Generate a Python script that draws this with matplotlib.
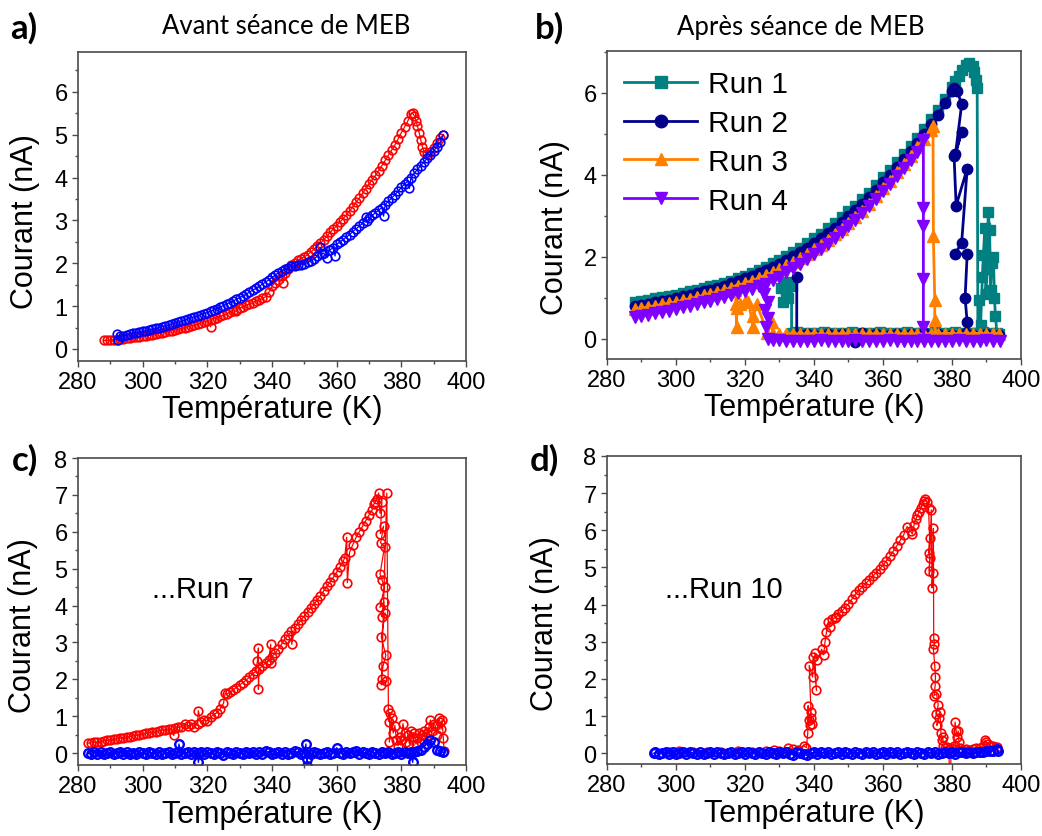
"""
Four-panel current vs temperature figure (before / after SEM session).
"""

import matplotlib
matplotlib.use("Agg")
import matplotlib.pyplot as plt
from matplotlib.ticker import MultipleLocator

plt.rcParams["font.family"] = ["Liberation Sans", "DejaVu Sans"]

W, H = 1042, 837
RED = "#FF0000"
BLUE = "#0000FF"
SPINE = "#4a4a4a"
RUN_COLOURS = ["#008080", "#00008B", "#FF8000", "#8000FF"]
RUN_MARKERS = ["s", "o", "^", "v"]
RUN_LABELS = ["Run 1", "Run 2", "Run 3", "Run 4"]

# ── Panel a : before SEM ───────────────────────────────────────
a_red_T = [288, 289, 290, 291, 292, 293, 294, 295, 296, 297,
           298, 299, 300, 301, 302, 303, 304, 305, 306, 307,
           308, 309, 310, 311, 312, 313, 314, 315, 316, 317,
           318, 319, 320, 321, 321, 322, 323, 324, 325, 326,
           327, 328, 329, 329, 330, 331, 332, 333, 334, 335,
           336, 337, 338, 339, 340, 341, 342, 343, 343.5, 344,
           345, 346, 347, 348, 349, 350, 351, 352, 353, 354,
           355, 356, 357, 358, 359, 360, 361, 362, 363, 364,
           365, 366, 367, 368, 369, 370, 371, 372, 373, 374,
           375, 376, 377, 378, 379, 380, 381, 382, 383, 383.5,
           384, 384.5, 385, 385.5, 386, 386.5, 387, 388, 389, 390,
           391, 392, 393]
a_red_I = [0.2, 0.2, 0.21, 0.21, 0.22, 0.23, 0.24, 0.25, 0.26, 0.27,
           0.28, 0.29, 0.3, 0.31, 0.32, 0.335, 0.35, 0.365, 0.38, 0.395,
           0.41, 0.425, 0.44, 0.46, 0.48, 0.5, 0.52, 0.54, 0.56, 0.585,
           0.61, 0.635, 0.66, 0.52, 0.685, 0.71, 0.735, 0.76, 0.79, 0.82,
           0.855, 0.89, 0.88, 0.92, 0.95, 0.985, 1.02, 1.05, 1.08, 1.115,
           1.15, 1.18, 1.22, 1.32, 1.47, 1.55, 1.62, 1.7, 1.55, 1.78,
           1.87, 1.95, 2.01, 2.07, 2.11, 2.15, 2.2, 2.26, 2.33, 2.4,
           2.47, 2.55, 2.63, 2.72, 2.8, 2.88, 2.96, 3.04, 3.13, 3.22,
           3.32, 3.42, 3.52, 3.63, 3.74, 3.85, 3.95, 4.05, 4.16, 4.28,
           4.4, 4.52, 4.64, 4.76, 4.9, 5.05, 5.18, 5.32, 5.48, 5.5,
           5.44, 5.33, 5.2, 5.05, 4.88, 4.72, 4.6, 4.56, 4.6, 4.7,
           4.8, 4.92, 5.0]

a_blue_T = [292, 292.5, 293, 294, 295, 296, 297, 298, 299, 300,
            301, 302, 303, 304, 305, 306, 307, 308, 309, 310,
            311, 312, 313, 314, 315, 316, 317, 318, 319, 320,
            321, 322, 323, 324, 325, 326, 327, 328, 329, 330,
            331, 332, 333, 334, 335, 336, 337, 338, 339, 340,
            341, 342, 343, 344, 345, 346, 347, 348, 349, 350,
            351, 352, 353, 354, 355, 355.5, 356, 357, 357.5, 358,
            359, 359.5, 360, 361, 362, 363, 364, 365, 366, 367,
            368, 369, 369.5, 370, 371, 372, 373, 374, 374.5, 375,
            376, 377, 378, 379, 380, 381, 382, 382.5, 383, 384,
            385, 386, 387, 388, 389, 390, 391, 392, 393]
a_blue_I = [0.35, 0.22, 0.3, 0.31, 0.33, 0.35, 0.365, 0.38, 0.395, 0.41,
            0.425, 0.44, 0.46, 0.48, 0.5, 0.52, 0.54, 0.56, 0.58, 0.6,
            0.625, 0.65, 0.675, 0.7, 0.725, 0.75, 0.775, 0.8, 0.825, 0.85,
            0.88, 0.91, 0.945, 0.98, 1.015, 1.05, 1.085, 1.12, 1.16, 1.2,
            1.24, 1.28, 1.325, 1.37, 1.415, 1.46, 1.51, 1.56, 1.615, 1.67,
            1.725, 1.78, 1.83, 1.87, 1.9, 1.93, 1.945, 1.96, 1.97, 1.98,
            2.02, 2.06, 2.11, 2.16, 2.37, 2.21, 2.24, 2.13, 2.3, 2.32,
            2.36, 2.17, 2.44, 2.5, 2.55, 2.61, 2.67, 2.74, 2.8, 2.87,
            2.93, 3.07, 2.98, 3.05, 3.12, 3.18, 3.24, 3.3, 3.1, 3.37,
            3.45, 3.52, 3.6, 3.68, 3.77, 3.85, 3.92, 3.75, 4.0, 4.1,
            4.19, 4.28, 4.36, 4.45, 4.53, 4.62, 4.72, 4.82, 5.0]

# ── Panel b : after SEM, runs 1-4 ──────────────────────────────
run1_T = [288, 290, 292, 294, 296, 298, 300, 302, 304, 306, 308, 310, 312, 314, 316, 318,
          320, 322, 324, 326, 328, 330, 332, 334, 336, 338, 340, 342, 344, 346, 348, 350,
          352, 354, 356, 358, 360, 362, 364, 366, 368, 370, 372, 374, 376, 378, 380,
          381, 382, 383, 384, 385, 386, 386.5, 387, 387.3,
          387.5, 387.8, 388.3, 388.8, 389.1, 389.5, 389.8, 390.2, 390.5, 390.9, 391.2, 391.5,
          392, 392.3, 392.6, 393, 393.5,
          391, 389, 387, 385, 383, 381, 379, 377, 375, 373, 371, 369, 367, 365, 363, 361,
          359, 357, 355, 353, 351, 349, 347, 345, 343, 341, 339, 337, 335,
          333.5, 333.5, 332.5, 332, 331, 330.5]
run1_I = [0.9, 0.93, 0.96, 0.99, 1.02, 1.05, 1.08, 1.12, 1.16, 1.2, 1.24, 1.28, 1.32, 1.37, 1.42, 1.48,
          1.54, 1.61, 1.68, 1.76, 1.84, 1.93, 2.02, 2.12, 2.22, 2.33, 2.45, 2.57, 2.7, 2.83, 2.97, 3.11,
          3.25, 3.4, 3.55, 3.75, 3.95, 4.13, 4.32, 4.5, 4.7, 4.9, 5.12, 5.35, 5.58, 5.85, 6.15,
          6.28, 6.42, 6.56, 6.68, 6.72, 6.66, 6.52, 6.32, 6.12,
          0.15, 0.95, 0.35, 1.5, 2.05, 2.7, 1.1, 1.7, 3.1, 2.65, 1.2, 1.85,
          2.0, 1.0, 0.55, 0.15, 0.12,
          0.14, 0.16, 0.15, 0.15, 0.14, 0.16, 0.15, 0.15, 0.16, 0.14, 0.15, 0.15, 0.16, 0.15, 0.14, 0.15,
          0.16, 0.15, 0.15, 0.14, 0.16, 0.15, 0.15, 0.14, 0.16, 0.15, 0.15, 0.15, 0.16,
          0.15, 1.3, 1.0, 1.38, 0.9, 1.25]

run2_T = [288, 290, 292, 294, 296, 298, 300, 302, 304, 306, 308, 310, 312, 314, 316, 318,
          320, 322, 324, 326, 328, 330, 332, 334, 336, 338, 340, 342, 344, 346, 348, 350,
          352, 354, 356, 358, 360, 362, 364, 366, 368, 370, 372, 374, 376, 378, 380,
          380.5, 381.5, 382.8, 381, 382.8, 380.6, 381.2, 384.4, 382.8, 380.9, 384.4, 383.8,
          384.4, 384.2, 393.5,
          392, 390, 388, 386, 384, 382, 380, 378, 376, 374, 372, 370, 368, 366, 364, 362,
          360, 358, 356, 354, 352, 350, 348, 346, 344, 342, 340, 338, 336,
          335, 335]
run2_I = [0.8, 0.83, 0.86, 0.89, 0.92, 0.96, 1.0, 1.04, 1.08, 1.12, 1.16, 1.2, 1.25, 1.3, 1.36, 1.42,
          1.48, 1.54, 1.6, 1.67, 1.75, 1.83, 1.92, 2.01, 2.11, 2.22, 2.33, 2.45, 2.58, 2.71, 2.85, 2.99,
          3.14, 3.29, 3.45, 3.63, 3.82, 4.0, 4.19, 4.38, 4.58, 4.78, 5.0, 5.23, 5.47, 5.75, 6.05,
          6.12, 6.05, 5.72, 4.5, 5.05, 4.45, 3.25, 4.15, 2.35, 2.07, 2.07, 1.0,
          0.4, 0.12, 0.1,
          0.08, 0.12, 0.05, 0.1, 0.14, 0.07, 0.1, 0.06, 0.12, 0.09, 0.15, 0.08, 0.11, 0.05, 0.13, 0.1,
          0.07, 0.12, 0.09, 0.14, -0.08, 0.06, 0.11, 0.1, 0.13, 0.07, 0.1, 0.12, 0.09,
          0.1, 1.52]

run3_T = [288, 290, 292, 294, 296, 298, 300, 302, 304, 306, 308, 310, 312, 314, 316, 318,
          320, 322, 324, 326, 328, 330, 332, 334, 336, 338, 340, 342, 344, 346, 348, 350,
          352, 354, 356, 358, 360, 362, 364, 366, 368, 370, 372, 374,
          374.5, 374.6, 375, 375, 375.1, 393.5,
          392, 390, 388, 386, 384, 382, 380, 378, 376, 374, 372, 370, 368, 366, 364, 362,
          360, 358, 356, 354, 352, 350, 348, 346, 344, 342, 340, 338, 336, 334, 332, 330, 328,
          327.7, 326.5, 323.4, 322.4, 322.4, 321, 320.4, 318.5, 317.6, 317.6, 317.5, 317]
run3_I = [0.72, 0.75, 0.78, 0.81, 0.84, 0.87, 0.9, 0.94, 0.98, 1.02, 1.06, 1.1, 1.14, 1.19, 1.25, 1.3,
          1.36, 1.42, 1.48, 1.55, 1.62, 1.7, 1.79, 1.88, 1.97, 2.07, 2.18, 2.3, 2.42, 2.55, 2.68, 2.82,
          2.97, 3.13, 3.3, 3.48, 3.67, 3.86, 4.06, 4.26, 4.46, 4.67, 4.88, 5.1,
          5.18, 2.5, 0.95, 0.45, 0.12, 0.12,
          0.12, 0.11, 0.13, 0.12, 0.12, 0.11, 0.13, 0.12, 0.12, 0.13, 0.11, 0.12, 0.12, 0.13, 0.12, 0.11,
          0.12, 0.13, 0.12, 0.12, 0.11, 0.12, 0.13, 0.12, 0.12, 0.11, 0.13, 0.12, 0.12, 0.13, 0.12, 0.11, 0.12,
          0.42, 0.15, 0.85, 0.55, 0.28, 0.9, 0.95, 0.85, 0.75, 0.28, 0.85, 1.2]

run4_T = [288, 290, 292, 294, 296, 298, 300, 302, 304, 306, 308, 310, 312, 314, 316, 318,
          320, 322, 324, 326, 328, 330, 332, 334, 336, 338, 340, 342, 344, 346, 348, 350,
          352, 354, 356, 358, 360, 362, 364, 366, 368, 370,
          371.7, 371.7, 371.7, 371.7, 371.7, 371.8, 394,
          392, 390, 388, 386, 384, 382, 380, 378, 376, 374, 372, 370, 368, 366, 364, 362,
          360, 358, 356, 354, 352, 350, 348, 346, 344, 342, 340, 338, 336, 334, 332, 330, 328,
          326.8, 326, 326.8, 325.8, 326.6, 325.5, 325]
run4_I = [0.53, 0.56, 0.59, 0.62, 0.65, 0.69, 0.73, 0.77, 0.81, 0.85, 0.89, 0.93, 0.97, 1.01, 1.06, 1.11,
          1.16, 1.22, 1.28, 1.35, 1.43, 1.52, 1.62, 1.72, 1.83, 1.94, 2.06, 2.18, 2.31, 2.45, 2.6, 2.75,
          2.91, 3.07, 3.24, 3.42, 3.6, 3.78, 3.97, 4.16, 4.36, 4.56,
          4.85, 3.2, 2.75, 1.45, 0.3, -0.04, -0.04,
          -0.04, -0.03, -0.05, -0.04, -0.04, -0.03, -0.05, -0.04, -0.04, -0.05, -0.03, -0.04, -0.04, -0.05, -0.04, -0.03,
          -0.04, -0.05, -0.04, -0.04, -0.03, -0.04, -0.05, -0.04, -0.04, -0.03, -0.05, -0.04, -0.04, -0.05, -0.04, -0.03, -0.02,
          0.0, 0.3, 0.5, 0.7, 0.9, 1.1, 1.3]

# ── Panel c : run 7 ────────────────────────────────────────────
c_red_T = [283, 284, 285, 286, 287, 288, 289, 290, 291, 292,
           293, 294, 295, 296, 297, 298, 299, 300, 301, 302,
           303, 304, 305, 306, 307, 308, 309, 309.6, 310, 311,
           312, 313, 314, 315, 316, 317, 317.2, 318, 319, 320,
           321, 322, 323, 324, 325, 325.5, 326, 327, 328, 329,
           330, 331, 332, 333, 334, 335, 335.5, 335.8, 335.8, 336,
           337, 338, 339, 339.6, 339.6, 340, 341, 342, 343, 344,
           345, 346, 346.1, 347, 348, 349, 350, 351, 352, 353,
           354, 355, 356, 357, 358, 359, 360, 361, 362, 362.5,
           363.1, 363.3, 364, 365, 366, 367, 368, 369, 370, 371,
           371.5, 372, 372.5, 373, 373.4, 374, 373.5, 374.5, 373.6, 374.8,
           373.4, 374, 374.8, 373.4, 374.6, 373.9, 375, 373.8, 375.2, 374.3,
           373.9, 375.3, 373.8, 375.5, 376, 376.2, 376.5, 376.3, 377, 377.5,
           378, 378.5, 379, 379.5, 380, 380.5, 381, 381.5, 382, 382.5,
           383, 383.5, 384, 384.5, 385, 385.5, 386, 386.5, 387, 387.5,
           388, 388.5, 389, 389.5, 390, 390.5, 391, 391.5, 392, 392.3,
           392.6, 393, 393.2]
c_red_I = [0.27, 0.28, 0.29, 0.3, 0.315, 0.33, 0.345, 0.36, 0.375, 0.39,
           0.405, 0.42, 0.435, 0.45, 0.465, 0.48, 0.5, 0.52, 0.535, 0.55,
           0.565, 0.58, 0.6, 0.62, 0.635, 0.65, 0.665, 0.48, 0.68, 0.7,
           0.72, 0.8, 0.74, 0.78, 0.72, 0.8, 1.15, 0.85, 0.9, 0.88,
           0.98, 1.05, 1.1, 1.2, 1.35, 1.62, 1.6, 1.65, 1.72, 1.78,
           1.85, 1.91, 1.98, 2.06, 2.15, 2.22, 2.5, 2.85, 1.73, 2.28,
           2.36, 2.45, 2.53, 2.95, 2.45, 2.62, 2.72, 2.82, 2.96, 3.1,
           3.2, 3.3, 2.95, 3.4, 3.5, 3.61, 3.72, 3.83, 3.94, 4.04,
           4.15, 4.27, 4.4, 4.52, 4.65, 4.77, 4.9, 5.05, 5.2, 5.3,
           5.85, 4.62, 5.45, 5.65, 5.85, 6.0, 6.15, 6.3, 6.45, 6.6,
           6.75, 6.82, 6.9, 7.05, 6.5, 6.8, 5.95, 6.15, 5.7, 5.6,
           4.85, 4.7, 4.5, 3.95, 4.1, 3.7, 3.8, 3.15, 2.65, 2.35,
           2.0, 1.95, 1.85, 7.05, 1.2, 0.85, 1.1, 0.3, 0.95, 0.55,
           0.75, 0.35, 0.2, 0.45, 0.35, 0.8, 0.55, 0.3, 0.5, 0.25,
           0.6, 0.45, 0.55, 0.25, 0.4, 0.55, 0.3, 0.5, 0.6, 0.45,
           0.55, 0.7, 0.9, 0.6, 0.8, 0.75, 0.5, 0.95, 0.85, 0.65,
           0.9, 0.4, 0.05]

c_blue_T = [283, 284, 285, 286, 287, 288, 289, 290, 291, 292,
            293, 294, 295, 296, 297, 298, 299, 300, 301, 302,
            303, 304, 305, 306, 307, 308, 309, 310, 311, 311.2,
            312, 313, 314, 315, 316, 317, 317.2, 318, 319, 320,
            321, 322, 323, 324, 325, 326, 327, 328, 329, 330,
            331, 332, 333, 334, 335, 336, 337, 338, 339, 340,
            341, 342, 343, 344, 345, 346, 347, 348, 349, 350,
            350.5, 350.7, 350.8, 351, 352, 353, 354, 355, 356, 357,
            358, 359, 360, 361, 362, 363, 364, 365, 366, 367,
            368, 369, 370, 371, 372, 373, 374, 375, 376, 377,
            378, 379, 380, 381, 382, 383, 383.5, 384, 385, 386,
            387, 388, 389, 390, 391, 392, 393]
c_blue_I = [0.0, -0.02, 0.03, -0.01, 0.02, -0.03, 0.01, 0.03, -0.02, 0.0,
            0.02, -0.01, 0.03, -0.02, 0.01, -0.03, 0.02, 0.0, -0.02, 0.03,
            0.01, -0.01, 0.02, -0.03, 0.0, 0.03, -0.02, 0.01, 0.02, 0.25,
            -0.02, 0.01, 0.03, -0.01, 0.02, 0.0, -0.25, 0.03, -0.01, 0.02,
            0.0, -0.03, 0.02, 0.01, -0.04, 0.02, 0.0, -0.02, 0.03, 0.01,
            -0.02, 0.02, 0.0, 0.03, -0.01, 0.02, -0.03, 0.05, 0.03, -0.02,
            0.0, 0.02, -0.01, 0.03, -0.02, 0.01, 0.05, 0.02, -0.02, 0.01,
            0.25, -0.15, -0.35, 0.02, -0.01, 0.03, 0.0, -0.02, 0.01, 0.03,
            -0.02, 0.0, 0.15, 0.01, -0.02, 0.03, 0.0, 0.02, 0.07, -0.01,
            0.02, 0.0, -0.02, 0.03, 0.01, -0.01, 0.02, 0.0, 0.03, -0.02,
            0.01, 0.02, -0.01, 0.03, 0.0, 0.02, -0.25, 0.03, 0.05, 0.1,
            0.18, 0.25, 0.35, 0.3, 0.1, 0.05, 0.02]

# ── Panel d : run 10 ───────────────────────────────────────────
d_red_T = [294, 298, 301, 305, 309, 313, 318, 322, 326, 328.5,
           330, 332.5, 334, 335.5, 337, 337.8, 338.2, 338.3, 338.5, 339,
           338.8, 339.5, 339.2, 338.6, 339.6, 339.8, 340.7, 340.2, 341, 342.2,
           342.8, 343.2, 343.6, 344.1, 344.5, 345.1, 346, 346.5, 347, 348,
           349, 350, 351, 352, 353, 354, 355, 356, 357, 358,
           359, 360, 361, 362, 363, 364, 365, 366, 367, 368,
           368.5, 369, 369.5, 370, 370.5, 371, 371.5, 372, 372.3, 372.8,
           373.2, 373.5, 373.2, 373.6, 373.4, 374, 374.2, 374.5, 374.6, 374.7,
           374.9, 374.6, 375, 375.2, 375.1, 374.8, 375.5, 376, 375.4, 376.2,
           375.6, 376.5, 376.8, 377, 377.3, 377.5, 378, 378.5, 379, 379.6,
           379.7, 380.5, 380.9, 381.2, 381.5, 381.8, 382, 382.3, 383, 384,
           385, 386, 387, 388, 389, 389.6, 390, 390.5, 391, 392,
           393]
d_red_I = [0.02, 0.03, 0.06, 0.02, 0.03, 0.02, 0.07, 0.03, 0.05, 0.1,
           0.05, 0.15, 0.12, 0.1, 0.2, 0.15, 0.55, 1.28, 0.9, 1.1,
           0.75, 0.8, 0.95, 2.36, 2.05, 2.6, 1.69, 2.7, 2.5, 2.8,
           2.65, 3.0, 3.26, 3.53, 3.4, 3.62, 3.64, 3.66, 3.74, 3.82,
           3.92, 4.02, 4.15, 4.28, 4.38, 4.48, 4.57, 4.66, 4.76, 4.86,
           4.96, 5.06, 5.18, 5.3, 5.44, 5.58, 5.73, 5.88, 6.1, 5.98,
           5.9, 6.15, 6.3, 6.4, 6.5, 6.6, 6.7, 6.8, 6.85, 6.75,
           6.6, 5.8, 5.4, 5.25, 4.9, 6.55, 4.45, 4.85, 6.05, 3.1,
           2.95, 2.8, 2.36, 2.05, 1.8, 1.55, 1.6, 1.3, 1.05, 0.95,
           0.75, 1.1, 0.55, 0.35, 0.45, 0.2, 0.15, 0.18, 0.12, -1.0,
           0.15, 0.2, 0.84, 0.6, 0.45, 0.6, 0.3, 0.15, 0.1, 0.12,
           0.1, 0.12, 0.15, 0.15, 0.2, 0.35, 0.3, 0.25, 0.2, 0.2,
           0.18]

d_blue_T = [293.5, 294, 295, 296, 297, 298, 299, 300, 301, 302,
            303, 304, 305, 306, 307, 308, 309, 310, 311, 312,
            313, 314, 315, 316, 317, 318, 319, 320, 321, 322,
            323, 324, 325, 326, 327, 328, 329, 330, 331, 332,
            333, 334, 335, 336, 337, 338, 339, 340, 341, 342,
            343, 344, 345, 346, 347, 348, 349, 350, 351, 352,
            353, 354, 355, 356, 357, 358, 359, 360, 361, 362,
            363, 364, 365, 366, 367, 368, 369, 370, 371, 372,
            373, 374, 375, 376, 377, 378, 379, 380, 381, 382,
            383, 384, 385, 386, 387, 388, 389, 390, 391, 392,
            393, 393.3]
d_blue_I = [0.0, 0.02, -0.02, 0.01, 0.03, -0.01, 0.02, -0.03, 0.01, 0.02,
            -0.02, 0.03, 0.0, -0.01, 0.02, -0.02, 0.01, 0.03, -0.01, 0.02,
            0.0, -0.02, 0.01, 0.03, -0.02, 0.0, 0.02, -0.01, 0.03, 0.01,
            -0.02, 0.02, 0.0, -0.01, 0.03, 0.01, -0.02, 0.02, 0.0, 0.03,
            -0.01, -0.05, 0.02, 0.0, -0.03, -0.06, 0.01, 0.02, -0.01, 0.03,
            0.0, 0.02, -0.02, 0.01, 0.03, -0.01, 0.02, 0.0, -0.02, 0.03,
            0.01, -0.01, 0.02, 0.0, 0.03, -0.02, 0.01, 0.02, -0.01, 0.03,
            0.0, 0.02, -0.02, 0.01, 0.03, 0.0, -0.01, 0.02, 0.01, -0.02,
            0.03, 0.0, 0.02, -0.01, 0.01, 0.03, 0.0, 0.02, -0.01, 0.03,
            0.02, 0.0, 0.03, 0.01, 0.02, 0.03, 0.04, 0.05, 0.06, 0.07,
            0.12, 0.05]


def _axes_px(fig, left, top, right, bottom):
    """Add an axes given its box in figure pixels (origin top-left)."""
    return fig.add_axes([left / W, 1 - bottom / H, (right - left) / W, (bottom - top) / H])


def _style(ax, ylim, ymajor, yminor, xlab_y, ylab_x, ylab_y):
    ax.set_xlim(280, 400)
    ax.set_ylim(*ylim)
    ax.xaxis.set_major_locator(MultipleLocator(20))
    ax.xaxis.set_minor_locator(MultipleLocator(10))
    ax.yaxis.set_major_locator(MultipleLocator(ymajor))
    ax.yaxis.set_minor_locator(MultipleLocator(yminor))
    ax.tick_params(which="both", direction="out", top=False, right=False,
                   color=SPINE, labelcolor="black", labelsize=17, width=1)
    ax.tick_params(which="major", length=4.5, pad=3)
    ax.tick_params(which="minor", length=2.5)
    for spine in ax.spines.values():
        spine.set_color(SPINE)
        spine.set_linewidth(1.2)
    ax.set_xlabel("Température (K)", fontsize=22)
    ax.set_ylabel("Courant (nA)", fontsize=22)
    ax.xaxis.label.set_va("center")
    ax.yaxis.label.set_va("center")
    ax.xaxis.set_label_coords(0.5, xlab_y)
    ax.yaxis.set_label_coords(ylab_x, ylab_y)


def _hollow(ax, x, y, colour, mew=1.2):
    # open circles joined by a thin line, as exported from the acquisition software
    ax.plot(x, y, color=colour, lw=0.9, marker="o", ms=6.2, mfc="none",
            mec=colour, mew=mew)


fig = plt.figure(figsize=(W / 100, H / 100), dpi=100)
fig.patch.set_facecolor("white")

# ── a) ─────────────────────────────────────────────────────────
ax_a = _axes_px(fig, 78, 53, 466, 362)
_hollow(ax_a, a_red_T, a_red_I, RED)
_hollow(ax_a, a_blue_T, a_blue_I, BLUE)
_style(ax_a, (-0.28, 6.93), 1, 0.5, -0.155, -0.137, 0.456)

# ── b) ─────────────────────────────────────────────────────────
ax_b = _axes_px(fig, 607, 52, 1021, 360)
runs = [(run1_T, run1_I), (run2_T, run2_I), (run3_T, run3_I), (run4_T, run4_I)]
sizes = [7, 7.5, 8, 9]
for (t, i), c, m, ms, lab in zip(runs, RUN_COLOURS, RUN_MARKERS, sizes, RUN_LABELS):
    ax_b.plot(t, i, color=c, lw=2, marker=m, ms=ms, mec=c, label=lab)
_style(ax_b, (-0.49, 7.02), 2, 1, -0.155, -0.126, 0.43)
leg = ax_b.legend(loc="upper left", bbox_to_anchor=(0.041, 0.937), frameon=False,
                  fontsize=21.5, handlelength=2.45, handletextpad=0.35,
                  labelspacing=0.36, borderaxespad=0, borderpad=0, numpoints=1)
for h in leg.legend_handles:
    h.set_markersize(9)

# ── c) ─────────────────────────────────────────────────────────
ax_c = _axes_px(fig, 78, 459, 466, 766)
_hollow(ax_c, c_red_T, c_red_I, RED)
_hollow(ax_c, c_blue_T, c_blue_I, BLUE, mew=1.7)
_style(ax_c, (-0.32, 8), 1, 0.5, -0.16, -0.142, 0.456)
ax_c.text(303, 4.44, "...Run 7", fontsize=21, va="center", ha="left")

# ── d) ─────────────────────────────────────────────────────────
ax_d = _axes_px(fig, 607, 457, 1021, 765)
_hollow(ax_d, d_red_T, d_red_I, RED)
_hollow(ax_d, d_blue_T, d_blue_I, BLUE, mew=1.7)
_style(ax_d, (-0.29, 8), 1, 0.5, -0.16, -0.15, 0.46)
ax_d.text(296.8, 4.42, "...Run 10", fontsize=21, va="center", ha="left")

# ── Panel letters and titles ───────────────────────────────────
LETTER_FONT = ["Lato", "DejaVu Sans"]
for txt, x, y in [("a)", 10, 28), ("b)", 535, 28), ("c)", 12, 460), ("d)", 530, 460)]:
    fig.text(x / W, 1 - y / H, txt, fontsize=25, fontweight="bold",
             family=LETTER_FONT, ha="left", va="center")
fig.text(286.5 / W, 1 - 27 / H, "Avant séance de MEB", fontsize=18.5,
         family=LETTER_FONT, ha="center", va="center")
fig.text(800.5 / W, 1 - 27 / H, "Après séance de MEB", fontsize=18.5,
         family=LETTER_FONT, ha="center", va="center")

fig.savefig("out.png", dpi=100, facecolor="white")
